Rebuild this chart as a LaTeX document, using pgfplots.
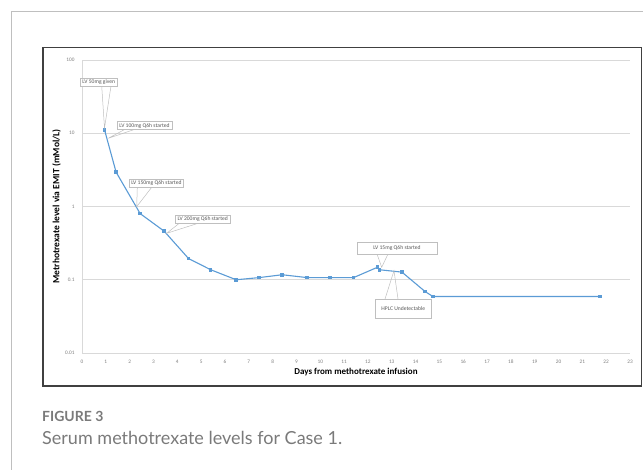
\documentclass[border=0pt]{standalone}
\usepackage{fontspec}
\setmainfont{Carlito}
\newfontfamily\capfont{Lato}
\usepackage{pgfplots}
\pgfplotsset{compat=1.18}
\definecolor{lineblue}{HTML}{5B9BD5}
\definecolor{gridgray}{HTML}{D9D9D9}
\definecolor{tickgray}{HTML}{7F7F7F}
\definecolor{boxgray}{HTML}{BFBFBF}
\definecolor{capgray}{HTML}{7A7A7A}
\begin{document}
\begin{tikzpicture}
\path[use as bounding box] (0,0) rectangle (643pt,470pt);
\begin{axis}[
  at={(82pt,117pt)}, anchor=south west,
  scale only axis, width=548pt, height=293pt,
  xmin=0, xmax=23, ymin=0.01, ymax=100,
  ymode=log, log basis y=10,
  xtick={0,1,...,23},
  ytick={0.01,0.1,1,10,100},
  yticklabels={0.01,0.1,1,10,100},
  axis lines*=left,
  axis line style={draw=gridgray, line width=0.8pt, -},
  ymajorgrids, grid style={draw=gridgray, line width=0.7pt},
  major tick length=0pt, minor tick num=0,
  /pgf/number format/assume math mode=true,
  ticklabel style={font=\fontsize{5.3}{6}\selectfont, text=tickgray},
  xticklabel style={yshift=-3.3pt},
  yticklabel style={xshift=-4pt},
  xlabel={Days from methotrexate infusion},
  ylabel={Metrhotrexate level via EMIT (mMol/L)},
  xlabel style={at={(axis description cs:0.5,-0.0648)}, anchor=center, font=\fontsize{9}{11}\selectfont\bfseries},
  ylabel style={at={(axis description cs:-0.0462,0.5)}, anchor=center, font=\fontsize{9.5}{11}\selectfont\bfseries},
  clip=false,
]
\addplot[color=lineblue, line width=1.1pt, mark=square*, mark size=1.25pt, mark options={fill=lineblue}] coordinates {
(0.95,11) (1.43,2.95) (2.44,0.80) (3.45,0.46) (4.47,0.195) (5.40,0.137)
(6.47,0.100) (7.44,0.107) (8.40,0.117) (9.45,0.107) (10.40,0.107) (11.40,0.107)
(12.40,0.148) (12.48,0.137) (13.43,0.127) (14.40,0.069) (14.73,0.059) (21.73,0.059)
};
\end{axis}
\begin{scope}[x=1pt,y=-1pt,yshift=470pt]
  % page borders
  \draw[boxgray, line width=0.8pt] (11,470) -- (11,11) -- (643,11);
  % chart frame
  \draw[black!75, line width=1.2pt] (43,47.5) rectangle (641.5,386);
  % callouts
  \tikzset{cbox/.style={draw=boxgray, fill=white, line width=0.5pt, inner sep=0pt, text=black!65, font=\fontsize{5.6}{6}\selectfont, anchor=north west},
           cline/.style={draw=boxgray, line width=0.5pt}}
  \draw[cline] (101.7,86) -- (104.5,128) -- (111,86);
  \node[cbox, minimum width=37pt, minimum height=8pt] at (80,78) {LV 50mg given};
  \draw[cline] (125,129.3) -- (108.3,138.3) -- (135,129.3);
  \node[cbox, minimum width=55pt, minimum height=8pt] at (116.7,121.5) {LV 100mg Q6h started};
  \draw[cline] (137.3,187.3) -- (136.7,206.7) -- (151.7,187.3);
  \node[cbox, minimum width=54.3pt, minimum height=8.3pt] at (129,179) {LV 150mg Q6h started};
  \draw[cline] (180,222.7) -- (166.7,233.3) -- (200,222.7);
  \node[cbox, minimum width=55pt, minimum height=7.7pt] at (175,215) {LV 200mg Q6h started};
  \draw[cline] (377,254) -- (381.7,267.3) -- (388,254);
  \node[cbox, minimum width=80pt, minimum height=12.3pt] at (356.7,241.7) {LV 15mg Q6h started};
  \draw[cline] (385,299) -- (394,270.7) -- (398,299);
  \node[cbox, minimum width=55.4pt, minimum height=18.7pt] at (375.3,299) {HPLC Undetectable};
  % caption
  \node[anchor=base west, inner sep=0pt, text=capgray, font=\capfont\fontsize{14}{16}\selectfont\bfseries] at (42,421.7) {FIGURE 3};
  \node[anchor=base west, inner sep=0pt, text=capgray, font=\capfont\fontsize{18}{20}\selectfont] at (42,445) {Serum methotrexate levels for Case 1.};
\end{scope}
\end{tikzpicture}
\end{document}
